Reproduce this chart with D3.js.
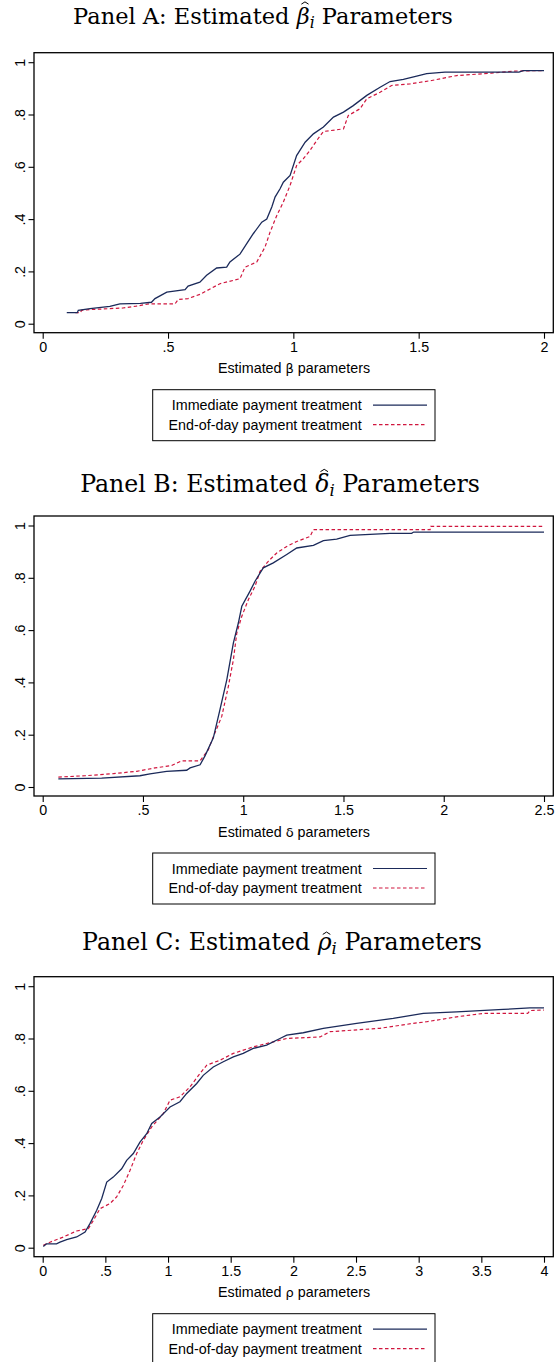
<!DOCTYPE html>
<html>
<head>
<meta charset="utf-8">
<script src="https://cdn.jsdelivr.net/npm/d3@7"></script>
<style>
  html, body { margin: 0; padding: 0; background: #fff; }
  svg { display: block; }
</style>
</head>
<body>
<svg id="chart" width="556" height="1362"></svg>
<script>
// ---------------- DATA ----------------
const seriesNames = ["Immediate payment treatment", "End-of-day payment treatment"];

// Panel A: beta
const betaTicksX = [0, 0.5, 1, 1.5, 2];
const betaTickLabels = ["0", ".5", "1", "1.5", "2"];
const betaImmX = [0.096, 0.138, 0.142, 0.189, 0.268, 0.308, 0.39, 0.434, 0.448, 0.495, 0.568, 0.58, 0.627, 0.654, 0.694, 0.734, 0.747, 0.787, 0.814, 0.84, 0.874, 0.894, 0.914, 0.927, 0.947, 0.96, 0.987, 1.013, 1.047, 1.08, 1.12, 1.16, 1.2, 1.239, 1.293, 1.346, 1.386, 1.439, 1.492, 1.532, 1.605, 1.9, 1.917, 2.0];
const betaImmY = [0.042, 0.042, 0.051, 0.058, 0.066, 0.076, 0.078, 0.082, 0.096, 0.121, 0.13, 0.144, 0.159, 0.185, 0.213, 0.216, 0.236, 0.266, 0.306, 0.344, 0.388, 0.40, 0.446, 0.484, 0.516, 0.541, 0.567, 0.643, 0.694, 0.726, 0.752, 0.79, 0.809, 0.834, 0.873, 0.904, 0.926, 0.934, 0.947, 0.956, 0.962, 0.962, 0.968, 0.968];
const betaEodX = [0.13, 0.15, 0.155, 0.19, 0.32, 0.373, 0.425, 0.528, 0.541, 0.58, 0.627, 0.707, 0.787, 0.807, 0.854, 0.887, 0.907, 0.934, 0.96, 0.987, 1.013, 1.04, 1.066, 1.093, 1.12, 1.2, 1.219, 1.266, 1.293, 1.346, 1.392, 1.465, 1.552, 1.652, 1.79, 1.878, 2.0];
const betaEodY = [0.042, 0.042, 0.051, 0.054, 0.060, 0.067, 0.076, 0.076, 0.093, 0.096, 0.112, 0.153, 0.172, 0.216, 0.236, 0.293, 0.35, 0.414, 0.465, 0.529, 0.605, 0.631, 0.662, 0.70, 0.735, 0.745, 0.796, 0.822, 0.86, 0.885, 0.911, 0.917, 0.93, 0.949, 0.958, 0.966, 0.968];

// Panel B: delta
const deltaTicksX = [0, 0.5, 1, 1.5, 2, 2.5];
const deltaTickLabels = ["0", ".5", "1", "1.5", "2", "2.5"];
const deltaImmX = [0.078, 0.294, 0.485, 0.535, 0.618, 0.718, 0.735, 0.785, 0.81, 0.851, 0.884, 0.918, 0.951, 0.976, 0.993, 1.034, 1.059, 1.1, 1.15, 1.217, 1.267, 1.35, 1.4, 1.466, 1.533, 1.732, 1.84, 1.85, 2.5];
const deltaImmY = [0.031, 0.034, 0.043, 0.05, 0.06, 0.064, 0.073, 0.085, 0.12, 0.188, 0.296, 0.41, 0.551, 0.628, 0.691, 0.749, 0.787, 0.838, 0.857, 0.889, 0.914, 0.924, 0.942, 0.948, 0.962, 0.97, 0.97, 0.975, 0.975];
const deltaEodX = [0.078, 0.211, 0.352, 0.469, 0.56, 0.643, 0.693, 0.785, 0.826, 0.859, 0.893, 0.926, 0.951, 0.968, 0.993, 1.026, 1.059, 1.084, 1.125, 1.167, 1.217, 1.267, 1.333, 1.35, 1.932, 1.935, 2.5];
const deltaEodY = [0.038, 0.043, 0.051, 0.06, 0.073, 0.082, 0.10, 0.10, 0.143, 0.207, 0.27, 0.385, 0.487, 0.589, 0.653, 0.717, 0.768, 0.825, 0.863, 0.895, 0.92, 0.939, 0.958, 0.984, 0.984, 0.997, 0.997];

// Panel C: rho
const rhoTicksX = [0, 0.5, 1, 1.5, 2, 2.5, 3, 3.5, 4];
const rhoTickLabels = ["0", ".5", "1", "1.5", "2", "2.5", "3", "3.5", "4"];
const rhoImmX = [0.005, 0.03, 0.11, 0.138, 0.191, 0.271, 0.338, 0.377, 0.431, 0.471, 0.511, 0.563, 0.63, 0.67, 0.723, 0.776, 0.83, 0.87, 0.936, 1.016, 1.095, 1.149, 1.229, 1.281, 1.361, 1.441, 1.521, 1.6, 1.68, 1.787, 1.893, 1.947, 2.079, 2.239, 2.505, 2.797, 3.037, 3.303, 3.675, 3.888, 4.0];
const rhoImmY = [0.005, 0.015, 0.015, 0.021, 0.031, 0.041, 0.06, 0.092, 0.143, 0.188, 0.251, 0.27, 0.302, 0.334, 0.36, 0.404, 0.436, 0.475, 0.50, 0.538, 0.558, 0.59, 0.628, 0.659, 0.691, 0.711, 0.73, 0.743, 0.762, 0.775, 0.80, 0.813, 0.822, 0.839, 0.858, 0.877, 0.896, 0.902, 0.911, 0.917, 0.917];
const rhoEodX = [0.005, 0.058, 0.165, 0.271, 0.364, 0.404, 0.457, 0.537, 0.59, 0.643, 0.697, 0.75, 0.803, 0.87, 0.962, 1.016, 1.095, 1.175, 1.255, 1.309, 1.415, 1.521, 1.68, 1.84, 1.947, 2.213, 2.292, 2.691, 2.957, 3.064, 3.303, 3.516, 3.87, 3.888, 4.0];
const rhoEodY = [0.009, 0.021, 0.041, 0.064, 0.073, 0.104, 0.149, 0.169, 0.194, 0.238, 0.296, 0.36, 0.411, 0.462, 0.513, 0.564, 0.577, 0.615, 0.666, 0.698, 0.717, 0.743, 0.768, 0.787, 0.80, 0.806, 0.826, 0.839, 0.858, 0.864, 0.883, 0.896, 0.896, 0.907, 0.909];

const yTicks = [0, 0.2, 0.4, 0.6, 0.8, 1];
const yTickLabels = ["0", ".2", ".4", ".6", ".8", "1"];

// ---------------- STYLE ----------------
const NAVY = "#1b2a5a";
const RED = "#d0163e";
const SANS = "'Liberation Sans', Arial, Helvetica, sans-serif";
const SERIF = "'DejaVu Serif', 'Liberation Serif', serif";
const FS = 14.3;

const svg = d3.select("#chart");

function drawPanel(cfg) {
  const top = cfg.top;
  const frame = { left: 34, right: 553.3, top: top, bottom: top + 280 };
  const x = d3.scaleLinear().domain([0, cfg.xmax]).range([42.7, 544]);
  const y = d3.scaleLinear().domain([0, 1]).range([top + 271, top + 9.5]);

  const g = svg.append("g");

  // Title, fitted to the reference width
  const title = g.append("text")
    .attr("x", cfg.titleX).attr("y", cfg.titleY)
    .attr("text-anchor", "middle")
    .attr("font-family", SERIF)
    .attr("font-size", 20)
    .attr("fill", "#000");
  const prefix = "Panel " + cfg.letter + ": Estimated ";
  title.append("tspan").text(prefix);
  title.append("tspan").attr("font-style", "italic").text(cfg.greek);
  title.append("tspan").attr("font-style", "italic").attr("font-size", "0.7em").attr("dy", 4).text("i");
  title.append("tspan").attr("dy", -4).text(" Parameters");
  const node = title.node();
  const w0 = node.getComputedTextLength();
  const fs = 20 * cfg.titleW / w0;
  title.attr("font-size", fs);
  // hat above the Greek letter
  const s = node.getStartPositionOfChar(prefix.length);
  const e = node.getEndPositionOfChar(prefix.length);
  const cx = (s.x + e.x) / 2 + fs * 0.08;
  const hy = cfg.titleY - fs * cfg.hatLevel;
  const hw = fs * 0.16, hh = fs * 0.1;
  g.append("path")
    .attr("d", `M${cx - hw},${hy} L${cx},${hy - hh} L${cx + hw},${hy}`)
    .attr("fill", "none").attr("stroke", "#000").attr("stroke-width", 1);

  // Frame
  g.append("rect")
    .attr("x", frame.left).attr("y", frame.top)
    .attr("width", frame.right - frame.left).attr("height", frame.bottom - frame.top)
    .attr("fill", "none").attr("stroke", "#000").attr("stroke-width", 1.3);

  // Y axis
  const yAxis = d3.axisLeft(y).tickValues(yTicks)
    .tickFormat((d, i) => yTickLabels[i]).tickSize(5.5).tickPadding(6);
  const ya = g.append("g").attr("transform", `translate(${frame.left},0)`).call(yAxis);
  ya.select(".domain").remove();
  ya.selectAll(".tick line").attr("stroke", "#000").attr("stroke-width", 1.1);
  ya.selectAll(".tick text")
    .attr("font-family", SANS).attr("font-size", FS).attr("fill", "#000")
    .attr("text-anchor", "middle")
    .attr("x", null)
    .attr("transform", "translate(-14,0) rotate(-90)")
    .attr("y", 0).attr("dy", "0.35em");

  // X axis
  const xAxis = d3.axisBottom(x).tickValues(cfg.ticks)
    .tickFormat((d, i) => cfg.tickLabels[i]).tickSize(6).tickPadding(3);
  const xa = g.append("g").attr("transform", `translate(0,${frame.bottom})`).call(xAxis);
  xa.select(".domain").remove();
  xa.selectAll(".tick line").attr("stroke", "#000").attr("stroke-width", 1.1);
  xa.selectAll(".tick text")
    .attr("font-family", SANS).attr("font-size", FS).attr("fill", "#000");

  // Axis title
  const at = g.append("text")
    .attr("x", 294).attr("y", frame.bottom + 40.5)
    .attr("text-anchor", "middle")
    .attr("font-family", SANS).attr("font-size", FS).attr("fill", "#000");
  at.append("tspan").text("Estimated ");
  at.append("tspan").attr("font-family", "'DejaVu Sans', sans-serif").attr("font-size", 13).text(cfg.axisGreek);
  at.append("tspan").text(" parameters");

  // Lines
  const line = d3.line().x(d => x(d[0])).y(d => y(d[1])).curve(d3.curveLinear);
  const imm = cfg.immX.map((v, i) => [v, cfg.immY[i]]);
  const eod = cfg.eodX.map((v, i) => [v, cfg.eodY[i]]);
  g.append("path").datum(eod).attr("d", line)
    .attr("fill", "none").attr("stroke", RED).attr("stroke-width", 1.2)
    .attr("stroke-dasharray", "3.5,2.5");
  g.append("path").datum(imm).attr("d", line)
    .attr("fill", "none").attr("stroke", NAVY).attr("stroke-width", 1.3);

  // Legend
  const lt = frame.bottom + 57;
  const lg = g.append("g");
  lg.append("rect").attr("x", 152.7).attr("y", lt).attr("width", 282.3).attr("height", 51)
    .attr("fill", "#fff").attr("stroke", "#000").attr("stroke-width", 1);
  const rows = [
    { name: seriesNames[0], color: NAVY, dash: null, cy: lt + 15.5 },
    { name: seriesNames[1], color: RED, dash: "3.5,2.5", cy: lt + 35 }
  ];
  rows.forEach(r => {
    lg.append("text").attr("x", 361.7).attr("y", r.cy).attr("dy", "0.35em")
      .attr("text-anchor", "end").attr("font-family", SANS).attr("font-size", FS)
      .attr("fill", "#000").text(r.name);
    lg.append("line").attr("x1", 373).attr("x2", 427).attr("y1", r.cy).attr("y2", r.cy)
      .attr("stroke", r.color).attr("stroke-width", 1.2)
      .attr("stroke-dasharray", r.dash);
  });
}

drawPanel({ top: 52.7, titleX: 263, titleW: 380, titleY: 23.5, letter: "A", greek: "β", hatLevel: 0.86, axisGreek: "β", xmax: 2,
  ticks: betaTicksX, tickLabels: betaTickLabels,
  immX: betaImmX, immY: betaImmY, eodX: betaEodX, eodY: betaEodY });
drawPanel({ top: 516, titleX: 280, titleW: 400, titleY: 492, letter: "B", greek: "δ", hatLevel: 0.86, axisGreek: "δ", xmax: 2.5,
  ticks: deltaTicksX, tickLabels: deltaTickLabels,
  immX: deltaImmX, immY: deltaImmY, eodX: deltaEodX, eodY: deltaEodY });
drawPanel({ top: 976.7, titleX: 282, titleW: 400, titleY: 950, letter: "C", greek: "ρ", hatLevel: 0.66, axisGreek: "ρ", xmax: 4,
  ticks: rhoTicksX, tickLabels: rhoTickLabels,
  immX: rhoImmX, immY: rhoImmY, eodX: rhoEodX, eodY: rhoEodY });
</script>
</body>
</html>
